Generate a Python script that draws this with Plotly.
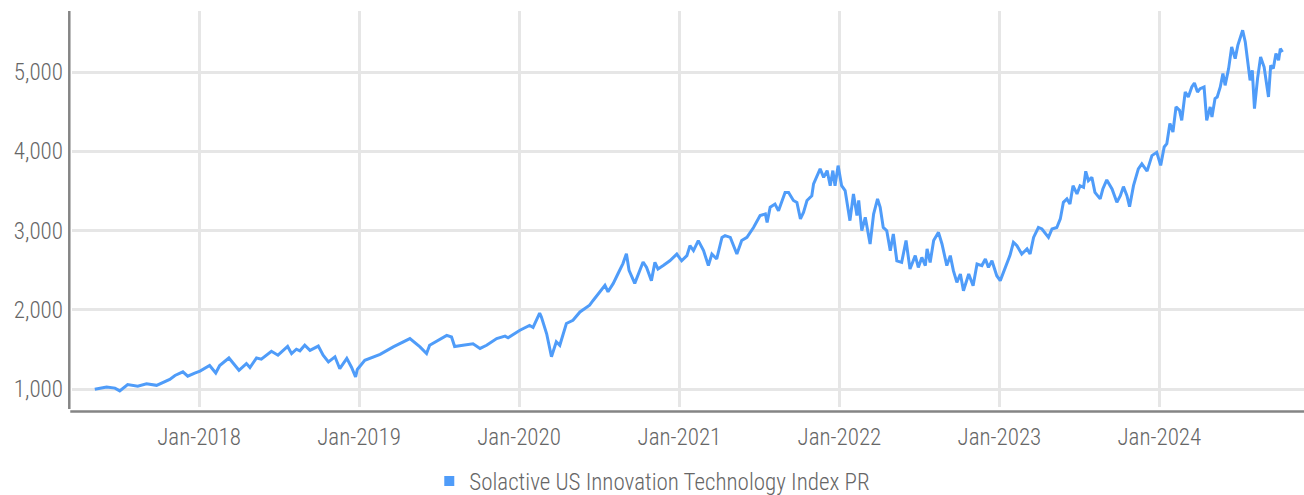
import plotly.graph_objects as go

series_name = "Solactive US Innovation Technology Index PR"

dates = [
    "2017-05-08", "2017-06-04", "2017-06-23", "2017-07-04", "2017-07-22", "2017-08-14", "2017-09-03",
    "2017-09-26", "2017-10-26", "2017-11-07", "2017-11-25", "2017-12-06", "2017-12-22",
    "2018-01-03", "2018-01-25", "2018-02-08", "2018-02-17", "2018-03-10", "2018-04-02", "2018-04-19",
    "2018-04-27", "2018-05-12", "2018-05-23", "2018-06-15", "2018-06-30", "2018-07-22", "2018-07-31",
    "2018-08-11", "2018-08-19", "2018-08-30", "2018-09-11", "2018-09-30", "2018-10-11", "2018-10-23",
    "2018-11-07", "2018-11-18", "2018-12-04", "2018-12-15", "2018-12-24", "2018-12-28",
    "2019-01-14", "2019-02-02", "2019-02-18", "2019-03-20", "2019-04-27", "2019-05-20", "2019-06-04",
    "2019-06-11", "2019-07-20", "2019-07-31", "2019-08-07", "2019-08-26", "2019-09-18", "2019-10-04",
    "2019-10-19", "2019-11-11", "2019-11-30", "2019-12-07",
    "2020-01-03", "2020-01-25", "2020-02-02", "2020-02-17", "2020-02-21", "2020-03-04", "2020-03-15",
    "2020-03-26", "2020-04-03", "2020-04-18", "2020-05-03", "2020-05-19", "2020-06-10", "2020-06-18",
    "2020-07-03", "2020-07-15", "2020-07-22", "2020-08-03", "2020-08-14", "2020-08-25", "2020-09-02",
    "2020-09-08", "2020-09-21", "2020-09-29", "2020-10-10", "2020-10-18", "2020-10-29", "2020-11-06",
    "2020-11-13", "2020-11-25", "2020-12-10", "2020-12-26",
    "2021-01-06", "2021-01-18", "2021-01-25", "2021-02-02", "2021-02-13", "2021-02-25", "2021-03-08",
    "2021-03-16", "2021-03-27", "2021-04-08", "2021-04-15", "2021-04-27", "2021-05-12", "2021-05-23",
    "2021-06-04", "2021-06-19", "2021-07-04", "2021-07-16", "2021-07-20", "2021-07-27", "2021-08-07",
    "2021-08-15", "2021-08-30", "2021-09-07", "2021-09-18", "2021-09-26", "2021-10-04", "2021-10-11",
    "2021-10-19", "2021-10-30", "2021-11-03", "2021-11-18", "2021-11-26", "2021-12-04", "2021-12-11",
    "2021-12-17", "2021-12-22", "2021-12-29",
    "2022-01-06", "2022-01-14", "2022-01-25", "2022-02-02", "2022-02-10", "2022-02-14", "2022-02-21",
    "2022-03-01", "2022-03-12", "2022-03-20", "2022-03-29", "2022-04-04", "2022-04-11", "2022-04-19",
    "2022-04-27", "2022-05-04", "2022-05-12", "2022-05-23", "2022-06-02", "2022-06-11", "2022-06-23",
    "2022-06-30", "2022-07-08", "2022-07-16", "2022-07-20", "2022-07-27", "2022-08-04", "2022-08-15",
    "2022-08-23", "2022-09-03", "2022-09-11", "2022-09-18", "2022-09-26", "2022-10-04", "2022-10-11",
    "2022-10-23", "2022-11-02", "2022-11-11", "2022-11-22", "2022-11-30", "2022-12-07", "2022-12-15",
    "2022-12-26",
    "2023-01-03", "2023-01-14", "2023-01-25", "2023-02-02", "2023-02-10", "2023-02-21", "2023-03-05",
    "2023-03-12", "2023-03-20", "2023-03-31", "2023-04-08", "2023-04-23", "2023-05-01", "2023-05-12",
    "2023-05-20", "2023-05-27", "2023-06-04", "2023-06-11", "2023-06-18", "2023-06-27", "2023-07-04",
    "2023-07-12", "2023-07-17", "2023-07-23", "2023-07-31", "2023-08-07", "2023-08-19", "2023-08-25",
    "2023-09-03", "2023-09-15", "2023-09-26", "2023-10-04", "2023-10-11", "2023-10-19", "2023-10-25",
    "2023-11-03", "2023-11-14", "2023-11-22", "2023-12-04", "2023-12-15", "2023-12-26",
    "2024-01-04", "2024-01-12", "2024-01-18", "2024-01-25", "2024-02-01", "2024-02-08", "2024-02-16",
    "2024-02-21", "2024-02-29", "2024-03-07", "2024-03-15", "2024-03-21", "2024-03-28", "2024-04-03",
    "2024-04-12", "2024-04-18", "2024-04-26", "2024-04-30", "2024-05-07", "2024-05-12", "2024-05-19",
    "2024-05-25", "2024-05-30", "2024-06-07", "2024-06-14", "2024-06-22", "2024-06-28", "2024-07-03",
    "2024-07-09", "2024-07-15", "2024-07-21", "2024-07-26", "2024-07-31", "2024-08-05", "2024-08-12",
    "2024-08-19", "2024-08-27", "2024-09-01", "2024-09-06", "2024-09-11", "2024-09-17", "2024-09-23",
    "2024-09-29", "2024-10-03", "2024-10-08",
]

index_values = [
    1000, 1030, 1015, 980, 1060, 1040, 1070,
    1050, 1125, 1175, 1220, 1165, 1205,
    1230, 1300, 1205, 1300, 1395, 1240, 1325,
    1275, 1395, 1380, 1480, 1430, 1540, 1450,
    1505, 1485, 1555, 1490, 1545, 1430, 1345,
    1410, 1260, 1390, 1275, 1155, 1250,
    1365, 1410, 1440, 1535, 1640, 1535, 1450,
    1555, 1680, 1660, 1540, 1555, 1575, 1515,
    1555, 1640, 1670, 1650,
    1745, 1805, 1780, 1960, 1910, 1700, 1410,
    1600, 1555, 1830, 1870, 1975, 2060, 2120,
    2230, 2310, 2230, 2335, 2460, 2585, 2710,
    2500, 2335, 2440, 2605, 2537, 2370, 2600,
    2517, 2560, 2620, 2705,
    2620, 2685, 2810, 2748, 2875, 2748, 2560,
    2705, 2643, 2915, 2937, 2915, 2705, 2875,
    2915, 3040, 3190, 3210, 3105, 3295, 3335,
    3250, 3480, 3480, 3380, 3355, 3148, 3230,
    3380, 3440, 3590, 3778, 3672, 3757, 3567,
    3757, 3567, 3820,
    3567, 3505, 3126, 3463, 3190, 3380, 3000,
    3168, 2832, 3210, 3400, 3295, 3040, 3000,
    2748, 2958, 2620, 2600, 2875, 2517, 2685,
    2537, 2663, 2560, 2770, 2600, 2875, 2979,
    2832, 2560, 2685, 2496, 2348, 2454, 2243,
    2454, 2306, 2580, 2560, 2643, 2537, 2620,
    2432,
    2370, 2537, 2685, 2853, 2811, 2705, 2770,
    2705, 2915, 3040, 3021, 2915, 3021, 3040,
    3148, 3357, 3400, 3335, 3567, 3463, 3567,
    3546, 3748, 3630, 3672, 3483, 3400, 3525,
    3640, 3525, 3357, 3440, 3555, 3440, 3303,
    3567, 3778, 3841, 3750, 3946, 3987,
    3823, 4055, 4097, 4350, 4243, 4560, 4517,
    4390, 4748, 4685, 4811, 4861, 4748, 4790,
    4811, 4390, 4560, 4433, 4665, 4685, 4811,
    4980, 4832, 5043, 5315, 5169, 5336, 5421,
    5526, 5378, 5106, 4895, 5021, 4538, 4917,
    5189, 5063, 4874, 4685, 5084, 5043, 5232,
    5148, 5295, 5252,
]

x_tick_dates = ["2018-01-01", "2019-01-01", "2020-01-01", "2021-01-01",
                "2022-01-01", "2023-01-01", "2024-01-01"]
y_tick_values = [1000, 2000, 3000, 4000, 5000]

FONT = "Roboto Condensed, Liberation Sans Narrow, Roboto, sans-serif"
LINE_COLOR = "#4f9cf9"
TEXT_COLOR = "#666666"
GRID_COLOR = "#e6e6e6"
AXIS_COLOR = "#858585"
TICK_FONT = dict(family=FONT, size=23, color=TEXT_COLOR, weight=300)

fig = go.Figure()
fig.add_trace(go.Scatter(
    x=dates, y=index_values, mode="lines",
    line=dict(color=LINE_COLOR, width=3),
    name=series_name, showlegend=False,
))
fig.add_trace(go.Scatter(
    x=[None], y=[None], mode="markers",
    marker=dict(symbol="square", size=10, color=LINE_COLOR),
    name=series_name, showlegend=True,
))

fig.update_layout(
    width=1304, height=495,
    margin=dict(l=72, r=0, t=11, b=88, autoexpand=False),
    paper_bgcolor="white", plot_bgcolor="white",
    font=TICK_FONT,
    legend=dict(
        orientation="h", x=0.29, xanchor="left", y=-0.187, yanchor="middle",
        font=TICK_FONT, itemwidth=30, bgcolor="rgba(0,0,0,0)",
    ),
    xaxis=dict(
        type="date",
        range=["2017-03-17", "2024-11-26"],
        tickvals=x_tick_dates, tickformat="%b-%Y",
        showgrid=True, gridcolor=GRID_COLOR, gridwidth=3,
        zeroline=False, showline=False, ticks="",
        ticklabelstandoff=14, automargin=False,
        tickfont=TICK_FONT,
    ),
    yaxis=dict(
        range=[777, 5769],
        tickvals=y_tick_values, tickformat=",",
        showgrid=True, gridcolor=GRID_COLOR, gridwidth=3,
        zeroline=False, showline=False, ticks="",
        ticklabelstandoff=8, automargin=False,
        tickfont=TICK_FONT,
    ),
    shapes=[
        dict(type="line", xref="paper", yref="paper", x0=-0.0022, x1=-0.0022, y0=-0.005, y1=1.0,
             line=dict(color=AXIS_COLOR, width=2.5)),
        dict(type="line", xref="paper", yref="paper", x0=-0.0014, x1=1.0, y0=-0.0115, y1=-0.0115,
             line=dict(color=AXIS_COLOR, width=2.5)),
    ],
)

fig.write_html("out.html")
